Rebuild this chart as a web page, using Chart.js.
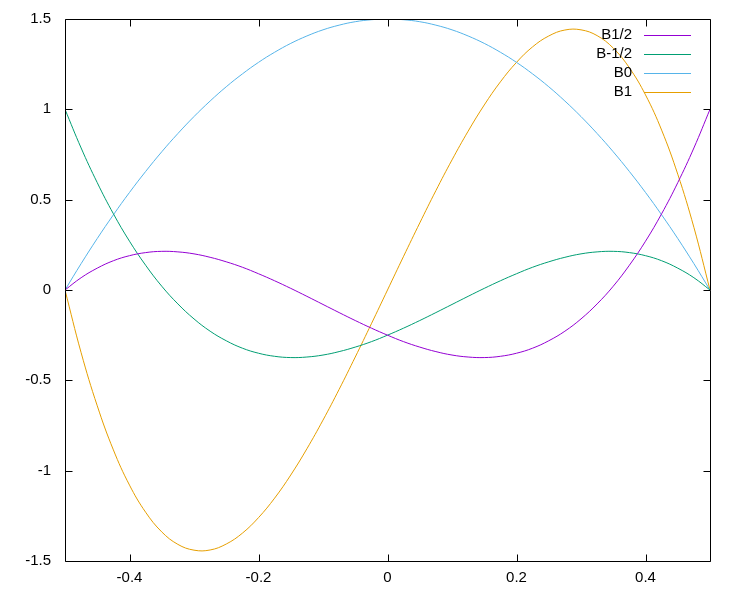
<!DOCTYPE html>
<html>
<head>
<meta charset="utf-8">
<script src="https://cdn.jsdelivr.net/npm/chart.js@4"></script>
<style>
  html, body { margin: 0; padding: 0; background: #fff; }
  #wrap { width: 750px; height: 600px; }
</style>
</head>
<body>
<div id="wrap"><canvas id="chart" width="750" height="600"></canvas></div>
<script>
  // valores
  const xs = [-0.5, -0.475, -0.45, -0.425, -0.4, -0.375, -0.35, -0.325, -0.3, -0.275, -0.25,
    -0.225, -0.2, -0.175, -0.15, -0.125, -0.1, -0.075, -0.05, -0.025, 0,
    0.025, 0.05, 0.075, 0.1, 0.125, 0.15, 0.175, 0.2, 0.225, 0.25,
    0.275, 0.3, 0.325, 0.35, 0.375, 0.4, 0.425, 0.45, 0.475, 0.5];

  const bHalf = [0, 0.068, 0.121, 0.162, 0.19, 0.207, 0.214, 0.211, 0.2, 0.181, 0.156,
    0.126, 0.09, 0.051, 0.009, -0.035, -0.08, -0.125, -0.169, -0.211, -0.25,
    -0.286, -0.316, -0.341, -0.36, -0.371, -0.374, -0.367, -0.35, -0.322, -0.281,
    -0.228, -0.16, -0.077, 0.021, 0.137, 0.27, 0.422, 0.594, 0.786, 1];

  const bMinusHalf = [1, 0.786, 0.594, 0.422, 0.27, 0.137, 0.021, -0.077, -0.16, -0.228, -0.281,
    -0.322, -0.35, -0.367, -0.374, -0.371, -0.36, -0.341, -0.316, -0.286, -0.25,
    -0.211, -0.169, -0.125, -0.08, -0.035, 0.009, 0.051, 0.09, 0.126, 0.156,
    0.181, 0.2, 0.211, 0.214, 0.207, 0.19, 0.162, 0.121, 0.068, 0];

  const bZero = [0, 0.146, 0.285, 0.416, 0.54, 0.656, 0.765, 0.866, 0.96, 1.046, 1.125,
    1.196, 1.26, 1.316, 1.365, 1.406, 1.44, 1.466, 1.485, 1.496, 1.5,
    1.496, 1.485, 1.466, 1.44, 1.406, 1.365, 1.316, 1.26, 1.196, 1.125,
    1.046, 0.96, 0.866, 0.765, 0.656, 0.54, 0.416, 0.285, 0.146, 0];

  const bOne = [0, -0.347, -0.641, -0.885, -1.08, -1.23, -1.339, -1.408, -1.44, -1.439, -1.406,
    -1.346, -1.26, -1.152, -1.024, -0.879, -0.72, -0.55, -0.371, -0.187, 0,
    0.187, 0.371, 0.55, 0.72, 0.879, 1.024, 1.152, 1.26, 1.346, 1.406,
    1.439, 1.44, 1.408, 1.339, 1.23, 1.08, 0.885, 0.641, 0.347, 0];

  const seriesNames = ["B1/2", "B-1/2", "B0", "B1"];
  const seriesColors = ["#9400d3", "#009e73", "#56b4e9", "#e69f00"];
  const xTicks = [-0.4, -0.2, 0, 0.2, 0.4];
  const yTicks = [-1.5, -1, -0.5, 0, 0.5, 1, 1.5];

  const FONT = { family: "'Liberation Sans', Arial, sans-serif", size: 15 };

  function pts(ys) { return xs.map((x, i) => ({ x: x, y: ys[i] })); }

  // marco con ticks hacia adentro + leyenda estilo gnuplot
  const framePlugin = {
    id: "frame",
    afterDraw(chart) {
      const { ctx, chartArea: a, scales } = chart;
      const L = Math.round(a.left) + 0.5, R = Math.round(a.right) + 0.5;
      const T = Math.round(a.top) + 0.5, B = Math.round(a.bottom) + 0.5;
      const tl = 7;
      ctx.save();
      ctx.strokeStyle = "#000";
      ctx.lineWidth = 1;
      ctx.beginPath();
      ctx.rect(L, T, R - L, B - T);
      xTicks.forEach((v) => {
        const px = Math.round(scales.x.getPixelForValue(v)) + 0.5;
        ctx.moveTo(px, B); ctx.lineTo(px, B - tl);
        ctx.moveTo(px, T); ctx.lineTo(px, T + tl);
      });
      yTicks.forEach((v) => {
        const py = Math.round(scales.y.getPixelForValue(v)) + 0.5;
        ctx.moveTo(L, py); ctx.lineTo(L + tl, py);
        ctx.moveTo(R, py); ctx.lineTo(R - tl, py);
      });
      ctx.stroke();

      // leyenda
      ctx.font = FONT.size + "px " + FONT.family;
      ctx.textAlign = "right";
      ctx.textBaseline = "middle";
      chart.data.datasets.forEach((ds, i) => {
        const y = 35 + i * 19;
        ctx.fillStyle = "#000";
        ctx.fillText(ds.label, 632, y - 0.5);
        ctx.strokeStyle = ds.borderColor;
        ctx.beginPath();
        ctx.moveTo(644, y + 0.5);
        ctx.lineTo(691, y + 0.5);
        ctx.stroke();
      });
      ctx.restore();
    }
  };

  const datasets = [bHalf, bMinusHalf, bZero, bOne].map((ys, i) => ({
    label: seriesNames[i],
    data: pts(ys),
    borderColor: seriesColors[i],
    backgroundColor: seriesColors[i],
    borderWidth: 1,
    pointRadius: 0,
    fill: false,
    tension: 0.4
  }));

  new Chart(document.getElementById("chart"), {
    type: "line",
    data: { datasets },
    options: {
      responsive: false,
      animation: false,
      events: [],
      layout: { padding: { top: 19, right: 40, left: 0, bottom: 0 } },
      plugins: { legend: { display: false }, tooltip: { enabled: false } },
      scales: {
        x: {
          type: "linear", min: -0.5, max: 0.5,
          grid: { display: false, drawTicks: false },
          border: { display: false },
          ticks: { color: "#000", font: FONT, padding: 8, callback: (v) => String(v) },
          afterBuildTicks: (s) => { s.ticks = xTicks.map((v) => ({ value: v })); },
          afterFit: (s) => { s.height = 39; s.paddingLeft = 0; s.paddingRight = 0; }
        },
        y: {
          type: "linear", min: -1.5, max: 1.5,
          grid: { display: false, drawTicks: false },
          border: { display: false },
          ticks: { color: "#000", font: FONT, padding: 14, callback: (v) => String(v) },
          afterBuildTicks: (s) => { s.ticks = yTicks.map((v) => ({ value: v })); },
          afterFit: (s) => { s.width = 65; s.paddingTop = 0; s.paddingBottom = 0; }
        }
      }
    },
    plugins: [framePlugin]
  });
</script>
</body>
</html>
